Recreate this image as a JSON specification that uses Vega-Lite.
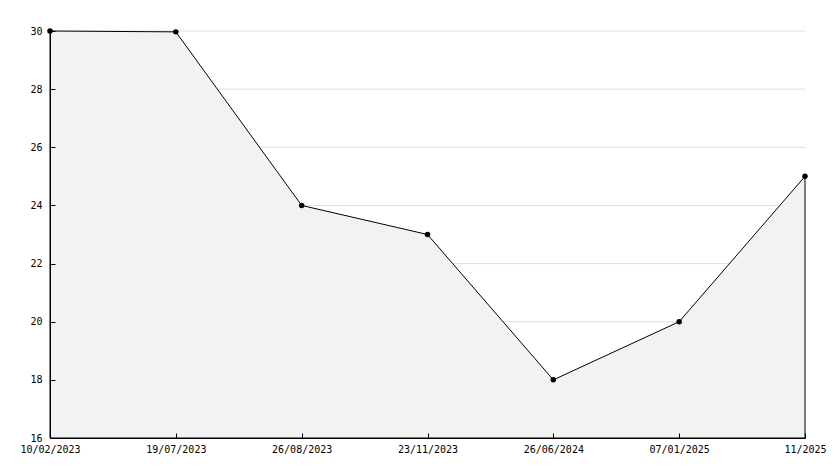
{
  "$schema": "https://vega.github.io/schema/vega-lite/v6.json",
  "width": 755,
  "height": 407,
  "autosize": {"type": "none"},
  "padding": {"left": 50, "top": 31, "right": 29, "bottom": 30},
  "background": "white",
  "config": {"view": {"stroke": null}},
  "datasets": {
    "series": [
      {"date": "10/02/2023", "value": 30},
      {"date": "19/07/2023", "value": 29.97},
      {"date": "26/08/2023", "value": 24},
      {"date": "23/11/2023", "value": 23},
      {"date": "26/06/2024", "value": 18},
      {"date": "07/01/2025", "value": 20},
      {"date": "11/2025", "value": 25}
    ],
    "grid": [
      {"value": 18}, {"value": 20}, {"value": 22}, {"value": 24},
      {"value": 26}, {"value": 28}, {"value": 30}
    ]
  },
  "layer": [
    {
      "data": {"name": "grid"},
      "mark": {"type": "rule", "color": "#dddddd", "strokeWidth": 1},
      "encoding": {
        "y": {"field": "value", "type": "quantitative"}
      }
    },
    {
      "data": {"name": "series"},
      "mark": {"type": "area", "fill": "#f2f2f2", "stroke": "black", "strokeWidth": 1},
      "encoding": {
        "x": {
          "field": "date",
          "type": "ordinal",
          "sort": null,
          "scale": {"type": "point", "padding": 0},
          "axis": {
            "title": null,
            "zindex": 1,
            "labelAngle": 0,
            "labelFont": "DejaVu Sans Mono",
            "labelFontSize": 10,
            "labelColor": "black",
            "labelOverlap": false,
            "labelPadding": 11,
            "tickSize": -5,
            "tickColor": "black",
            "domainColor": "black",
            "grid": false
          }
        },
        "y": {
          "field": "value",
          "type": "quantitative",
          "scale": {"domain": [16, 30], "nice": false, "zero": false},
          "axis": {
            "title": null,
            "zindex": 1,
            "values": [16, 17, 18, 19, 20, 21, 22, 23, 24, 25, 26, 27, 28, 29, 30],
            "labelExpr": "datum.value % 2 === 0 ? datum.label : ''",
            "labelFont": "DejaVu Sans Mono",
            "labelFontSize": 10,
            "labelColor": "black",
            "labelPadding": 13,
            "labelOverlap": false,
            "tickSize": {"condition": {"test": "datum.value % 2 === 0", "value": -5}, "value": -3},
            "tickColor": "black",
            "domainColor": "black",
            "grid": false
          }
        },
        "y2": {"datum": 16}
      }
    },
    {
      "data": {"name": "series"},
      "mark": {"type": "point", "shape": "circle", "filled": true, "color": "black", "size": 30, "opacity": 1},
      "encoding": {
        "x": {"field": "date", "type": "ordinal", "sort": null},
        "y": {"field": "value", "type": "quantitative"}
      }
    }
  ]
}
